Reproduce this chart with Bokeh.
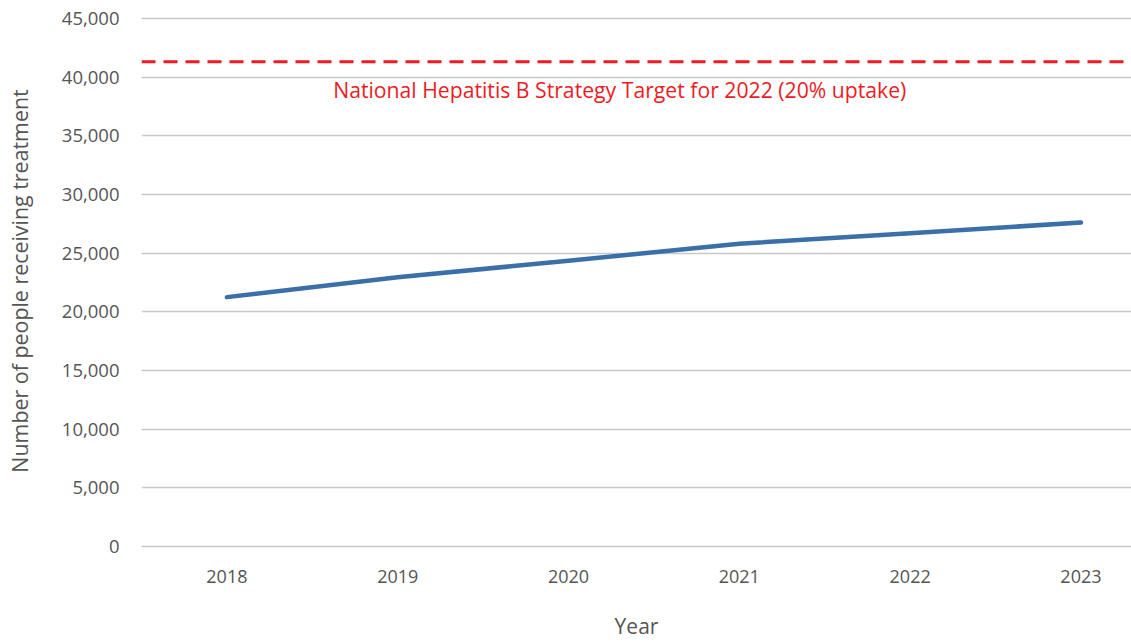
from bokeh.plotting import figure
from bokeh.models import Range1d, FixedTicker, Span, Label, NumeralTickFormatter
from bokeh.embed import file_html
from bokeh.resources import INLINE

years = [2018, 2019, 2020, 2021, 2022, 2023]
year_labels = ["2018", "2019", "2020", "2021", "2022", "2023"]
people_treated = [21250, 22950, 24350, 25800, 26700, 27600]
target_value = 41300
target_text = "National Hepatitis B Strategy Target for 2022 (20% uptake)"
y_ticks = [0, 5000, 10000, 15000, 20000, 25000, 30000, 35000, 40000, 45000]

FONT = "Open Sans"

p = figure(width=1131, height=642, output_backend="svg", toolbar_location=None,
           x_range=Range1d(2017.5, 2023.296), y_range=Range1d(-250, 45500),
           min_border_left=141, min_border_right=0, min_border_top=12, min_border_bottom=93)
p.outline_line_color = None
p.background_fill_color = "white"
p.border_fill_color = "white"

p.line(years, people_treated, line_color="#3a6fa7", line_width=4.5, line_cap="round", line_join="round")

p.add_layout(Span(location=target_value, dimension="width", line_color="#ed1c24",
                  line_width=3, line_dash="14 8"))
p.add_layout(Label(x=2020.3, y=38950, text=target_text, text_align="center", text_baseline="middle",
                   text_color="#ed1c24", text_font=FONT, text_font_size="21.2px"))

# x axis
p.xaxis.ticker = FixedTicker(ticks=years)
p.xaxis.major_label_overrides = {y: l for y, l in zip(years, year_labels)}
p.xaxis.axis_line_color = None
p.xaxis.major_tick_line_color = None
p.xaxis.minor_tick_line_color = None
p.xaxis.major_label_standoff = 14
p.xaxis.major_label_text_font = FONT
p.xaxis.major_label_text_font_size = "18px"
p.xaxis.major_label_text_color = "#555555"
p.xaxis.axis_label = "Year"
p.xaxis.axis_label_text_font = FONT
p.xaxis.axis_label_text_font_style = "normal"
p.xaxis.axis_label_text_font_size = "21px"
p.xaxis.axis_label_text_color = "#555555"
p.xaxis.axis_label_standoff = 26
p.xgrid.grid_line_color = None

# y axis
p.yaxis.ticker = FixedTicker(ticks=y_ticks)
p.yaxis.formatter = NumeralTickFormatter(format="0,0")
p.yaxis.axis_line_color = None
p.yaxis.major_tick_line_color = None
p.yaxis.minor_tick_line_color = None
p.yaxis.major_label_standoff = 16
p.yaxis.major_label_text_font = FONT
p.yaxis.major_label_text_font_size = "18.5px"
p.yaxis.major_label_text_color = "#555555"
p.yaxis.axis_label = "Number of people receiving treatment"
p.yaxis.axis_label_text_font = FONT
p.yaxis.axis_label_text_font_style = "normal"
p.yaxis.axis_label_text_font_size = "21.4px"
p.yaxis.axis_label_text_color = "#555555"
p.yaxis.axis_label_standoff = 25
p.ygrid.grid_line_color = "#c8c8c8"
p.ygrid.grid_line_width = 1.5

open("out.html", "w").write(file_html(p, INLINE))
